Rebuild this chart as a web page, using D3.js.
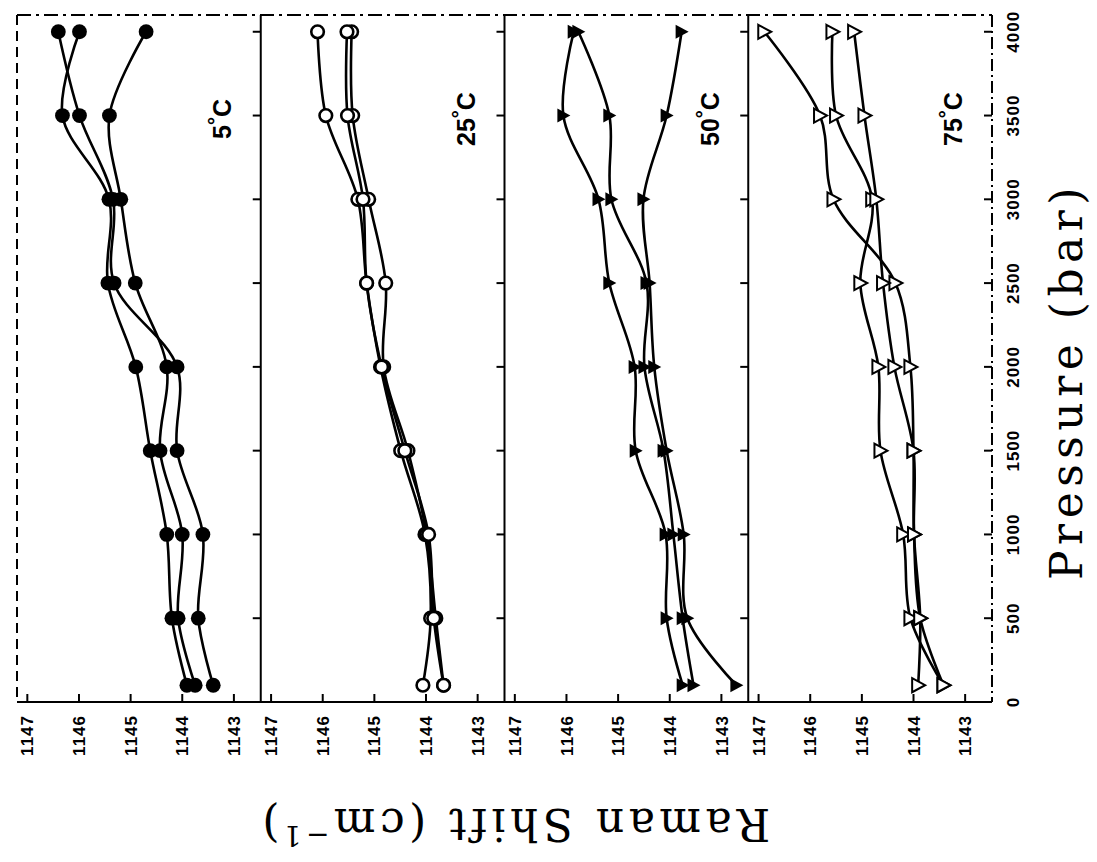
<!DOCTYPE html>
<html><head><meta charset="utf-8">
<script src="https://cdn.jsdelivr.net/npm/d3@7"></script>
<style>html,body{margin:0;padding:0;background:#fff;} svg{display:block;}</style>
</head><body><svg id="c" width="1097" height="862"></svg>
<script>
// ---- data ----
const pressure = [100, 500, 1000, 1500, 2000, 2500, 3000, 3500, 4000];
const pressureTicks = [0, 500, 1000, 1500, 2000, 2500, 3000, 3500, 4000];
const shiftTicks = [1147, 1146, 1145, 1144, 1143];
const panelLabels = ["5", "25", "50", "75"];

const shift5C_a = [1143.91, 1144.20, 1144.30, 1144.62, 1144.90, 1145.44, 1145.42, 1146.32, 1145.99];
const shift5C_b = [1143.75, 1144.08, 1144.00, 1144.43, 1144.30, 1144.91, 1145.19, 1145.41, 1144.70];
const shift5C_c = [1143.40, 1143.69, 1143.60, 1144.10, 1144.10, 1145.32, 1145.34, 1145.99, 1146.40];

const shift25C_a = [1144.06, 1143.91, 1144.02, 1144.49, 1144.88, 1145.15, 1145.32, 1145.94, 1146.10];
const shift25C_b = [1143.66, 1143.81, 1143.99, 1144.35, 1144.82, 1144.78, 1145.11, 1145.42, 1145.44];
const shift25C_c = [1143.66, 1143.85, 1143.95, 1144.41, 1144.86, 1145.15, 1145.22, 1145.52, 1145.53];

const shift50C_a = [1142.71, 1143.66, 1143.73, 1144.06, 1144.30, 1144.39, 1144.51, 1144.06, 1143.77];
const shift50C_b = [1143.75, 1144.06, 1144.08, 1144.66, 1144.68, 1145.17, 1145.38, 1146.06, 1145.86];
const shift50C_c = [1143.54, 1143.75, 1143.93, 1144.12, 1144.49, 1144.45, 1145.13, 1145.17, 1145.77];

const shift75C_a = [1143.91, 1143.87, 1143.99, 1144.00, 1144.06, 1144.35, 1145.55, 1145.81, 1146.89];
const shift75C_b = [1143.42, 1144.06, 1144.20, 1144.64, 1144.68, 1145.03, 1144.80, 1145.50, 1145.57];
const shift75C_c = [1143.42, 1143.87, 1143.99, 1144.00, 1144.37, 1144.59, 1144.72, 1144.95, 1145.15];

const panels = [
  {label: panelLabels[0], marker: "circleFilled", series: [shift5C_a, shift5C_b, shift5C_c]},
  {label: panelLabels[1], marker: "circleOpen", series: [shift25C_a, shift25C_b, shift25C_c]},
  {label: panelLabels[2], marker: "triFilled", series: [shift50C_a, shift50C_b, shift50C_c]},
  {label: panelLabels[3], marker: "triOpen", series: [shift75C_a, shift75C_b, shift75C_c]}
];

// ---- layout ----
const svg = d3.select("#c");
svg.append("rect").attr("width", 1097).attr("height", 862).attr("fill", "#fff");
const L = 17, R = 992, T = 15, B = 702;
const pw = (R - L) / 4;
const y = d3.scaleLinear().domain([0, 4100]).range([B, T]);
const sansB = "'Liberation Sans', Arial, sans-serif";
const serif = "'DejaVu Serif', serif";

const g = svg.append("g");

panels.forEach((p, i) => {
  const left = L + i * pw, right = left + pw;
  const x = d3.scaleLinear().domain([1147.2, 1142.48]).range([left, right]);

  // bottom ticks + labels
  shiftTicks.forEach(t => {
    g.append("line").attr("x1", x(t)).attr("x2", x(t)).attr("y1", B).attr("y2", B - 8)
      .attr("stroke", "#000").attr("stroke-width", 2);
    g.append("text").attr("transform", `translate(${x(t)},${B + 13}) rotate(-90)`)
      .attr("text-anchor", "end").attr("dy", "0.36em")
      .attr("font-family", sansB).attr("font-weight", "bold").attr("font-size", 17)
      .attr("letter-spacing", 1).text(t);
  });
  // right-edge ticks
  pressureTicks.filter(d => d > 0).forEach(t => {
    g.append("line").attr("x1", right).attr("x2", right - 8).attr("y1", y(t)).attr("y2", y(t))
      .attr("stroke", "#000").attr("stroke-width", 2);
  });

  // lines
  const line = d3.line().x(d => x(d[1])).y(d => y(d[0])).curve(d3.curveCatmullRom.alpha(0.5));
  p.series.forEach(s => {
    const pts = pressure.map((pr, k) => [pr, s[k]]);
    g.append("path").attr("d", line(pts)).attr("fill", "none")
      .attr("stroke", "#000").attr("stroke-width", 2.6);
  });
  // markers
  p.series.forEach(s => {
    pressure.forEach((pr, k) => {
      const cx = x(s[k]), cy = y(pr);
      if (p.marker === "circleFilled") {
        g.append("circle").attr("cx", cx).attr("cy", cy).attr("r", 7.4).attr("fill", "#000");
      } else if (p.marker === "circleOpen") {
        g.append("circle").attr("cx", cx).attr("cy", cy).attr("r", 6.3)
          .attr("fill", "#fff").attr("stroke", "#000").attr("stroke-width", 2.6);
      } else {
        const tri = `M${cx - 6},${cy - 7}L${cx + 7},${cy}L${cx - 6},${cy + 7}Z`;
        if (p.marker === "triFilled") {
          g.append("path").attr("d", tri).attr("fill", "#000");
        } else {
          g.append("path").attr("d", tri).attr("fill", "#fff").attr("stroke", "#000").attr("stroke-width", 2);
        }
      }
    });
  });

  // panel label
  const lt = g.append("text").attr("transform", `translate(${left + 205},${119}) rotate(-90)`)
    .attr("text-anchor", "middle").attr("dy", "0.36em")
    .attr("font-family", sansB).attr("font-weight", "bold").attr("font-size", 25);
  lt.append("tspan").text(p.label);
  lt.append("tspan").attr("font-size", 20).attr("dy", "-0.45em").text("°");
  lt.append("tspan").attr("dy", "0.36em").text("C");

  // separators
  if (i > 0) {
    g.append("line").attr("x1", left).attr("x2", left).attr("y1", T).attr("y2", B)
      .attr("stroke", "#000").attr("stroke-width", 2);
  }
});

// frame
g.append("line").attr("x1", L).attr("x2", R).attr("y1", T).attr("y2", T)
  .attr("stroke", "#000").attr("stroke-width", 2).attr("stroke-dasharray", "14,5,3,5");
g.append("line").attr("x1", L).attr("x2", L).attr("y1", T).attr("y2", B)
  .attr("stroke", "#000").attr("stroke-width", 2).attr("stroke-dasharray", "10,6");
g.append("line").attr("x1", R).attr("x2", R).attr("y1", T).attr("y2", B)
  .attr("stroke", "#000").attr("stroke-width", 2).attr("stroke-dasharray", "12,4,2,4");
g.append("line").attr("x1", L).attr("x2", R).attr("y1", B).attr("y2", B)
  .attr("stroke", "#000").attr("stroke-width", 2);

// right pressure labels
pressureTicks.forEach(t => {
  g.append("text").attr("transform", `translate(${1013},${y(t)}) rotate(-90)`)
    .attr("text-anchor", "middle").attr("dy", "0.36em")
    .attr("font-family", sansB).attr("font-weight", "bold").attr("font-size", 17)
    .attr("letter-spacing", 1).text(t);
});

// axis titles
g.append("text").attr("transform", `translate(1066,${381}) rotate(-90)`)
  .attr("text-anchor", "middle").attr("dy", "0.36em")
  .attr("font-family", serif).attr("font-size", 44).attr("letter-spacing", 5.5)
  .text("Pressure (bar)");

const yt = g.append("text").attr("transform", `translate(514,${805}) rotate(180)`)
  .attr("text-anchor", "middle").attr("dy", "-0.1em")
  .attr("font-family", serif).attr("font-size", 44).attr("letter-spacing", 4.4);
yt.append("tspan").text("Raman Shift (cm");
yt.append("tspan").attr("font-size", 28).attr("dy", "-0.6em").text("−1");
yt.append("tspan").attr("dy", "0.4em").text(")");
</script>
</body></html>
